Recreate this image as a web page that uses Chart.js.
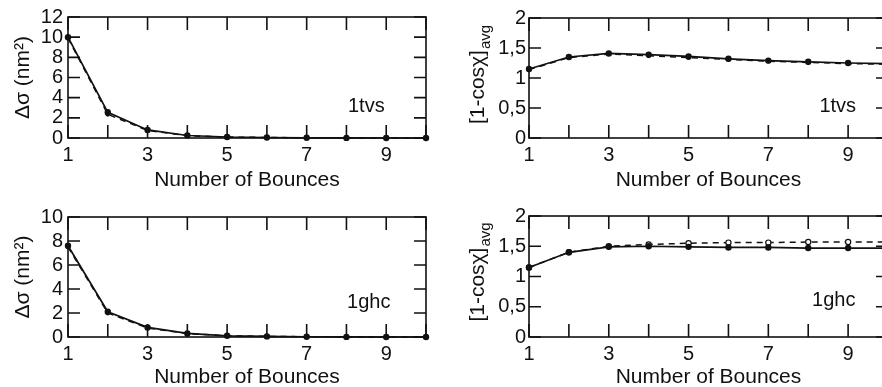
<!DOCTYPE html>
<html>
<head>
<meta charset="utf-8">
<script src="https://cdn.jsdelivr.net/npm/chart.js@4.4.0/dist/chart.umd.min.js"></script>
<style>
  html, body { margin: 0; padding: 0; background: #fff; overflow: hidden; width: 882px; height: 387px; }
  canvas { position: absolute; }
</style>
</head>
<body>
<canvas id="c1" width="441" height="193" style="left:0;top:0"></canvas>
<canvas id="c2" width="460" height="193" style="left:441px;top:0"></canvas>
<canvas id="c3" width="441" height="193" style="left:0;top:197px"></canvas>
<canvas id="c4" width="460" height="193" style="left:441px;top:197px"></canvas>
<script>
// data
const bounces = [1, 2, 3, 4, 5, 6, 7, 8, 9, 10];
const xLabelTicks = [1, 3, 5, 7, 9];

const tvsSigmaSolid  = [10.0, 2.55, 0.80, 0.25, 0.10, 0.05, 0.02, 0.01, 0, 0];
const tvsSigmaDashed = [9.9, 2.35, 0.75, 0.22, 0.10, 0.05, 0.02, 0.01, 0, 0];
const ghcSigmaSolid  = [7.6, 2.10, 0.80, 0.30, 0.10, 0.05, 0.02, 0.01, 0, 0];
const ghcSigmaDashed = [7.5, 2.00, 0.75, 0.28, 0.10, 0.05, 0.02, 0.01, 0, 0];

const tvsCosSolid  = [1.15, 1.35, 1.41, 1.39, 1.36, 1.32, 1.29, 1.27, 1.25, 1.24];
const tvsCosDashed = [1.14, 1.34, 1.40, 1.37, 1.34, 1.31, 1.28, 1.26, 1.24, 1.23];
const ghcCosSolid  = [1.15, 1.40, 1.49, 1.50, 1.49, 1.48, 1.48, 1.47, 1.47, 1.47];
const ghcCosDashed = [1.15, 1.40, 1.50, 1.53, 1.55, 1.56, 1.56, 1.57, 1.57, 1.57];

const sigmaTvsMax = 12;
const sigmaGhcMax = 10;
const cosMax = 2;

Chart.defaults.font.family = '"Liberation Sans", Arial, sans-serif';
Chart.defaults.color = '#111';

const INK = '#111';

// frame with inward tick marks, plus the protein name inside the plot
const frameTicks = {
    id: 'frameTicks',
    beforeDatasetsDraw(chart, args, opts) {
        const { ctx, chartArea: a, scales: { x, y } } = chart;
        ctx.save();
        ctx.strokeStyle = INK;
        ctx.lineWidth = 1.6;
        ctx.strokeRect(a.left, a.top, a.right - a.left, a.bottom - a.top);
        ctx.beginPath();
        for (let v = x.min; v <= x.max; v++) {
            const px = x.getPixelForValue(v);
            ctx.moveTo(px, a.bottom); ctx.lineTo(px, a.bottom - opts.len);
            ctx.moveTo(px, a.top); ctx.lineTo(px, a.top + opts.len);
        }
        y.ticks.forEach(t => {
            const py = y.getPixelForValue(t.value);
            ctx.moveTo(a.left, py); ctx.lineTo(a.left + opts.len - 1, py);
            ctx.moveTo(a.right, py); ctx.lineTo(a.right - opts.len + 1, py);
        });
        ctx.stroke();

        ctx.fillStyle = INK;
        ctx.font = '20px "Liberation Sans", Arial, sans-serif';
        ctx.textAlign = 'center';
        ctx.textBaseline = 'middle';
        ctx.fillText(opts.name, x.getPixelForValue(opts.nameAt[0]), y.getPixelForValue(opts.nameAt[1]));
        ctx.restore();
    }
};

// rotated y title with a subscript, e.g. [1-cosχ]avg
const subTitle = {
    id: 'subTitle',
    afterDraw(chart, args, opts) {
        if (!opts.main) return;
        const { ctx, chartArea: a } = chart;
        ctx.save();
        ctx.translate(opts.x, (a.top + a.bottom) / 2 + opts.dy);
        ctx.rotate(-Math.PI / 2);
        ctx.fillStyle = INK;
        ctx.textAlign = 'left';
        ctx.textBaseline = 'alphabetic';
        const mainFont = opts.size + 'px "Liberation Sans", Arial, sans-serif';
        const subFont = opts.subSize + 'px "Liberation Sans", Arial, sans-serif';
        ctx.font = mainFont;
        const wMain = ctx.measureText(opts.main).width;
        ctx.font = subFont;
        const wSub = ctx.measureText(opts.sub).width;
        const start = -(wMain + wSub) / 2;
        ctx.font = mainFont;
        ctx.fillText(opts.main, start, opts.size * 0.36);
        ctx.font = subFont;
        ctx.fillText(opts.sub, start + wMain + 1, opts.size * 0.36 + opts.subSize * 0.4);
        ctx.restore();
    }
};

Chart.register(frameTicks, subTitle);

function points(values) {
    return bounces.map((b, i) => ({ x: b, y: values[i] }));
}

function makePanel(id, cfg) {
    const canvas = document.getElementById(id);
    const W = canvas.width, H = canvas.height;
    return new Chart(canvas, {
        type: 'line',
        data: {
            datasets: [
                {
                    // solid series, first so it sits on top
                    data: points(cfg.solid),
                    borderColor: INK, borderWidth: 1.7,
                    pointRadius: 3.2, pointBackgroundColor: INK, pointBorderWidth: 0,
                    tension: 0, clip: false
                },
                {
                    data: points(cfg.dashed),
                    borderColor: INK, borderWidth: 1.5, borderDash: [6, 5],
                    pointRadius: cfg.openDashed ? 2.6 : 2.4,
                    pointBackgroundColor: cfg.openDashed ? '#fff' : INK,
                    pointBorderColor: INK, pointBorderWidth: cfg.openDashed ? 1.2 : 0,
                    tension: 0, clip: false
                }
            ]
        },
        options: {
            responsive: false,
            animation: false,
            events: [],
            layout: { padding: { top: cfg.area.top, right: W - cfg.area.right, left: 0, bottom: 0 } },
            plugins: {
                legend: { display: false },
                tooltip: { enabled: false },
                frameTicks: { len: 13, name: cfg.name, nameAt: cfg.nameAt },
                subTitle: cfg.subTitle || {}
            },
            scales: {
                x: {
                    type: 'linear', min: 1, max: 10,
                    grid: { display: false, drawTicks: false },
                    border: { display: false },
                    ticks: {
                        stepSize: 1, autoSkip: false, maxRotation: 0, padding: 5,
                        font: { size: 20 },
                        callback: v => xLabelTicks.includes(v) ? String(v) : ''
                    },
                    title: { display: true, text: 'Number of Bounces', font: { size: 21 }, padding: 0 },
                    afterFit: s => { s.height = H - cfg.area.bottom; }
                },
                y: {
                    min: 0, max: cfg.yMax,
                    grid: { display: false, drawTicks: false },
                    border: { display: false },
                    ticks: {
                        stepSize: cfg.yStep, autoSkip: false, padding: cfg.yPad, font: { size: 20 },
                        callback: v => String(v).replace('.', ',')
                    },
                    title: cfg.yTitle
                        ? { display: true, text: cfg.yTitle, font: { size: 21 }, padding: { top: 11, bottom: 0 } }
                        : { display: false },
                    afterFit: s => { s.width = cfg.area.left; }
                }
            }
        }
    });
}

makePanel('c1', {
    solid: tvsSigmaSolid, dashed: tvsSigmaDashed,
    yMax: sigmaTvsMax, yStep: 2, yPad: 5, yTitle: 'Δσ (nm²)',
    area: { left: 68, right: 426, top: 17, bottom: 138 },
    name: '1tvs', nameAt: [8.5, 3.1]
});
makePanel('c2', {
    solid: tvsCosSolid, dashed: tvsCosDashed,
    yMax: cosMax, yStep: 0.5, yPad: 3,
    area: { left: 88, right: 447, top: 18, bottom: 138 },
    name: '1tvs', nameAt: [8.74, 0.52],
    subTitle: { main: '[1-cosχ]', sub: 'avg', size: 21, subSize: 15, x: 35, dy: -3 }
});
makePanel('c3', {
    solid: ghcSigmaSolid, dashed: ghcSigmaDashed,
    yMax: sigmaGhcMax, yStep: 2, yPad: 5, yTitle: 'Δσ (nm²)',
    area: { left: 68, right: 426, top: 20, bottom: 140 },
    name: '1ghc', nameAt: [8.56, 2.9]
});
makePanel('c4', {
    solid: ghcCosSolid, dashed: ghcCosDashed, openDashed: true,
    yMax: cosMax, yStep: 0.5, yPad: 3,
    area: { left: 88, right: 447, top: 19, bottom: 140 },
    name: '1ghc', nameAt: [8.64, 0.61],
    subTitle: { main: '[1-cosχ]', sub: 'avg', size: 21, subSize: 15, x: 35, dy: -4 }
});
</script>
</body>
</html>
